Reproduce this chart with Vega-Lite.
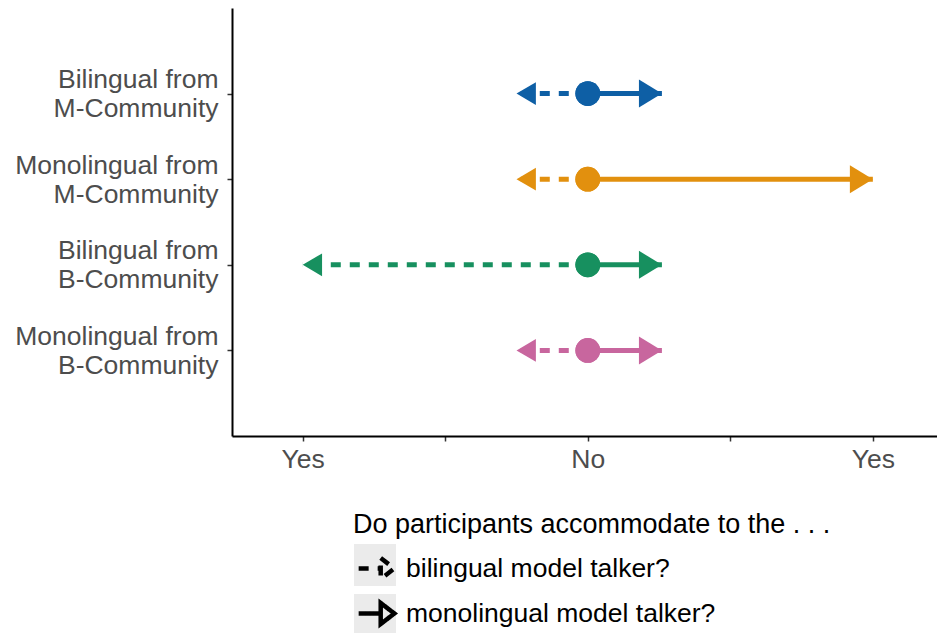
{
  "$schema": "https://vega.github.io/schema/vega-lite/v6.json",
  "width": 705,
  "height": 428,
  "autosize": "none",
  "padding": {"left": 232, "top": 8, "right": 0, "bottom": 197},
  "background": "white",
  "config": {"view": {"stroke": null}, "font": "Liberation Sans"},
  "data": {
    "values": [
      {"group": "Bilingual from M-Community", "talker": "bilingual model talker?", "origin": 0, "value": -0.25},
      {"group": "Bilingual from M-Community", "talker": "monolingual model talker?", "origin": 0, "value": 0.26},
      {"group": "Monolingual from M-Community", "talker": "bilingual model talker?", "origin": 0, "value": -0.25},
      {"group": "Monolingual from M-Community", "talker": "monolingual model talker?", "origin": 0, "value": 1.0},
      {"group": "Bilingual from B-Community", "talker": "bilingual model talker?", "origin": 0, "value": -1.0},
      {"group": "Bilingual from B-Community", "talker": "monolingual model talker?", "origin": 0, "value": 0.26},
      {"group": "Monolingual from B-Community", "talker": "bilingual model talker?", "origin": 0, "value": -0.25},
      {"group": "Monolingual from B-Community", "talker": "monolingual model talker?", "origin": 0, "value": 0.26}
    ]
  },
  "encoding": {
    "y": {
      "field": "group",
      "type": "nominal",
      "sort": ["Bilingual from M-Community", "Monolingual from M-Community", "Bilingual from B-Community", "Monolingual from B-Community"],
      "scale": {"type": "point", "padding": 1},
      "axis": {
        "title": null,
        "domainColor": "black",
        "domainWidth": 2,
        "tickColor": "#333333",
        "tickWidth": 1.5,
        "tickSize": 5,
        "labelFontSize": 26.5,
        "labelColor": "#4D4D4D",
        "labelPadding": 9,
        "labelLineHeight": 29,
        "labelOffset": -14,
        "labelLimit": 300,
        "labelExpr": "split(replace(datum.label, ' from ', ' from|'), '|')"
      }
    },
    "x": {
      "field": "value",
      "type": "quantitative",
      "scale": {"domain": [-1.248, 1.225], "nice": false, "zero": false},
      "axis": {
        "title": null,
        "grid": false,
        "values": [-1, -0.5, 0, 0.5, 1],
        "labelExpr": "datum.value == 0 ? 'No' : (abs(datum.value) == 1 ? 'Yes' : '')",
        "domainColor": "black",
        "domainWidth": 2,
        "tickColor": "#333333",
        "tickWidth": 1.5,
        "tickSize": 5,
        "labelFontSize": 26.5,
        "labelColor": "#4D4D4D",
        "labelPadding": 5
      }
    },
    "color": {
      "field": "group",
      "type": "nominal",
      "scale": {
        "domain": ["Bilingual from M-Community", "Monolingual from M-Community", "Bilingual from B-Community", "Monolingual from B-Community"],
        "range": ["#0E5FA5", "#E2900E", "#17905F", "#C8669E"]
      },
      "legend": null
    }
  },
  "layer": [
    {
      "mark": {"type": "square", "opacity": 0},
      "encoding": {
        "fill": {
          "field": "talker",
          "type": "nominal",
          "scale": {"range": ["#EBEBEB", "#EBEBEB"]},
          "legend": {
            "orient": "none",
            "legendX": 121,
            "legendY": 535,
            "title": null,
            "labelExpr": "''",
            "rowPadding": 2,
            "symbolType": "square",
            "symbolSize": 1764,
            "encode": {
              "symbols": {
                "update": {
                  "fill": {"value": "#EBEBEB"},
                  "stroke": {"value": "transparent"},
                  "opacity": {"value": 1},
                  "fillOpacity": {"value": 1}
                }
              }
            }
          }
        }
      }
    },
    {
      "mark": {"type": "rule", "strokeWidth": 5, "strokeCap": "butt"},
      "encoding": {
        "x": {"field": "origin", "type": "quantitative"},
        "x2": {"field": "value"},
        "strokeDash": {
          "field": "talker",
          "type": "nominal",
          "scale": {
            "domain": ["bilingual model talker?", "monolingual model talker?"],
            "range": [[10, 9], [1, 0]]
          },
          "legend": {
            "orient": "none",
            "legendX": 121,
            "legendY": 504,
            "title": "Do participants accommodate to the . . .",
            "titleFontSize": 27,
            "titleFontWeight": "normal",
            "titleColor": "black",
            "titlePadding": 6,
            "titleLimit": 700,
            "labelFontSize": 26.5,
            "labelColor": "black",
            "labelOffset": 6,
            "labelLimit": 600,
            "rowPadding": 2,
            "symbolType": "M-0.85,0L0.2,0M0.2,-0.5L0.85,0L0.2,0.5Z",
            "symbolSize": 1764,
            "encode": {
              "symbols": {
                "update": {
                  "stroke": {"value": "black"},
                  "fill": {"value": "transparent"},
                  "strokeWidth": {"value": 4.5}
                }
              }
            }
          }
        }
      }
    },
    {
      "transform": [{"filter": "datum.talker == 'monolingual model talker?'"}],
      "mark": {"type": "point", "filled": true, "opacity": 1, "size": 784, "shape": "M-1.64,-1L0,0L-1.64,1Z"},
      "encoding": {}
    },
    {
      "transform": [{"filter": "datum.talker == 'bilingual model talker?'"}],
      "mark": {"type": "point", "filled": true, "opacity": 1, "size": 520, "shape": "M1.7,-1L0,0L1.7,1Z"},
      "encoding": {}
    },
    {
      "mark": {"type": "circle", "opacity": 1, "size": 615},
      "encoding": {"x": {"field": "origin", "type": "quantitative"}}
    }
  ]
}
